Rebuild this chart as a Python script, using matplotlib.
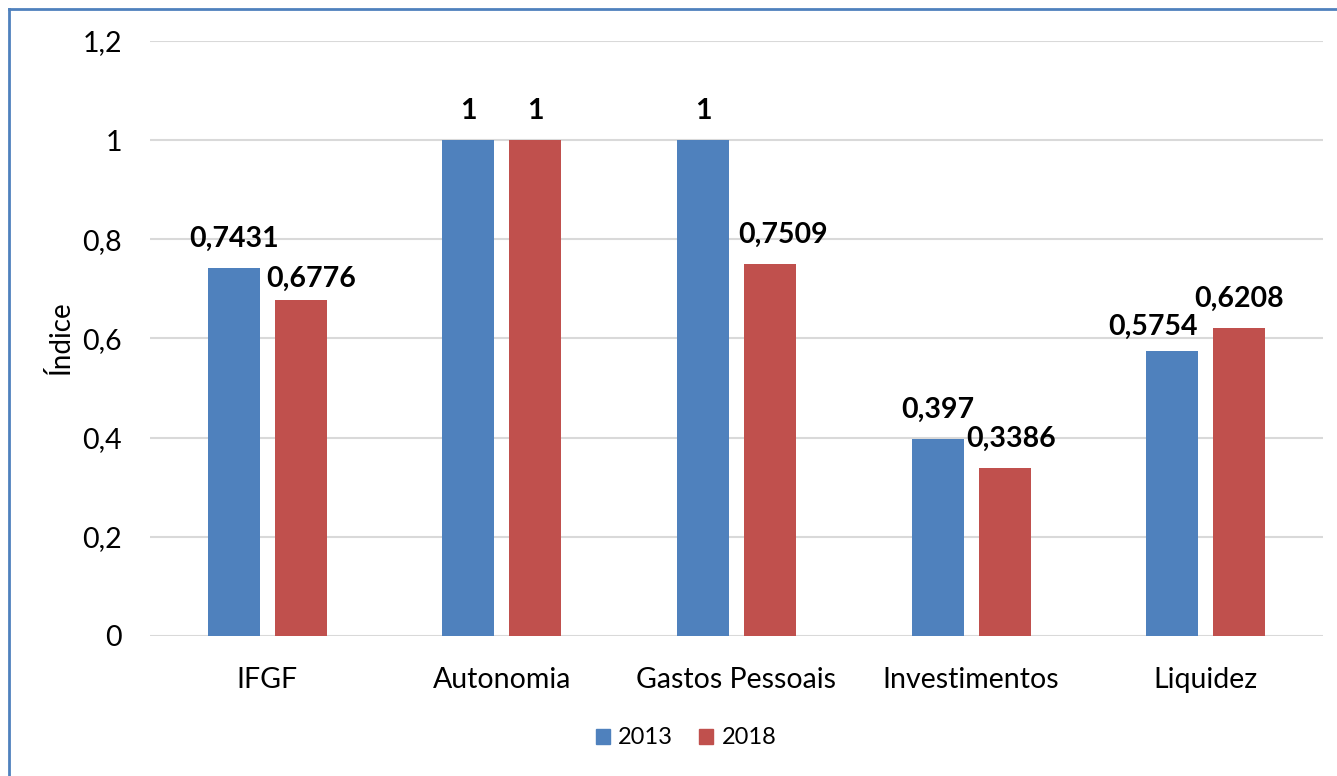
import matplotlib
matplotlib.use("Agg")
import matplotlib.pyplot as plt
from matplotlib.patches import Rectangle
from matplotlib.lines import Line2D
import numpy as np

categories = ["IFGF", "Autonomia", "Gastos Pessoais", "Investimentos", "Liquidez"]
series_names = ["2013", "2018"]
values_2013 = [0.7431, 1, 1, 0.397, 0.5754]
values_2018 = [0.6776, 1, 0.7509, 0.3386, 0.6208]
labels_2013 = ["0,7431", "1", "1", "0,397", "0,5754"]
labels_2018 = ["0,6776", "1", "0,7509", "0,3386", "0,6208"]
yticks = [0, 0.2, 0.4, 0.6, 0.8, 1.0, 1.2]
ytick_labels = ["0", "0,2", "0,4", "0,6", "0,8", "1", "1,2"]

# label nudges (px) to mimic Excel's placement
dx_2013 = [0, 0, 0, 0, -19]
dx_2018 = [10, 0, 13, 6, 0]
dy_2013 = [0, 0, 0, 0, -5]
dy_2018 = [-8, 0, 0, 0, 0]

W, H = 1337, 776
plt.rcParams['font.family'] = ['Lato', 'DejaVu Sans']
fig = plt.figure(figsize=(W / 100, H / 100), dpi=100)
fig.patch.set_facecolor("white")

ax = fig.add_axes([150 / W, 1 - 636 / H, (1323 - 150) / W, (636 - 41) / H])

blue = "#4F81BD"
red = "#C0504D"
x = np.arange(len(categories))
bw = 0.222
off = 0.143
ax.bar(x - off, values_2013, bw, color=blue, label=series_names[0], zorder=3)
ax.bar(x + off, values_2018, bw, color=red, label=series_names[1], zorder=3)

ax.set_xlim(-0.5, len(categories) - 0.5)
ax.set_ylim(0, 1.2)
ax.set_yticks(yticks)
ax.set_yticklabels(ytick_labels)
ax.set_xticks(x)
ax.set_xticklabels(categories)
ax.tick_params(axis="both", length=0, labelsize=20.5, colors="black")
ax.tick_params(axis="y", pad=20)
ax.tick_params(axis="x", pad=22)
ax.grid(axis="y", color="#D9D9D9", linewidth=1.5, zorder=0)
for s in ax.spines.values():
    s.set_visible(False)
ax.set_ylabel("Índice", fontsize=20, labelpad=6)

for xs, vals, labs, dxs, dys in [(x - off, values_2013, labels_2013, dx_2013, dy_2013),
                                 (x + off, values_2018, labels_2018, dx_2018, dy_2018)]:
    for xi, v, lab, d, e in zip(xs, vals, labs, dxs, dys):
        ax.annotate(lab, (xi, v), xytext=(d * 0.72, (16 + e) * 0.72), textcoords="offset points",
                    ha="center", va="bottom", fontsize=20.5, fontweight="bold")

handles = [Rectangle((0, 0), 1, 1, color=blue), Rectangle((0, 0), 1, 1, color=red)]
fig.legend(handles, series_names, loc="center", bbox_to_anchor=(686 / W, 1 - 738 / H),
           ncol=2, frameon=False, fontsize=17, handlelength=0.6, handleheight=0.6,
           handletextpad=0.35, columnspacing=1.1)

# outer chart border (left and top visible)
fig.add_artist(Line2D([9 / W, 9 / W], [0, 1 - 9 / H], color=blue, linewidth=2, transform=fig.transFigure))
fig.add_artist(Line2D([9 / W, 1], [1 - 9 / H, 1 - 9 / H], color=blue, linewidth=2, transform=fig.transFigure))

fig.savefig("out.png", dpi=100)
